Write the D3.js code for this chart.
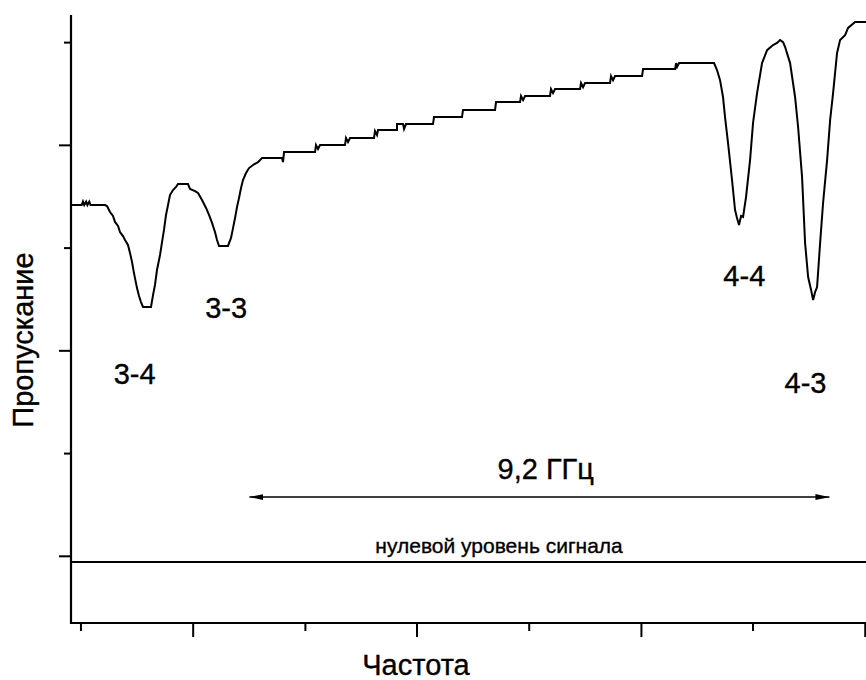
<!DOCTYPE html>
<html>
<head>
<meta charset="utf-8">
<script src="https://cdn.jsdelivr.net/npm/d3@7"></script>
<style>
  body { margin: 0; background: #fff; }
  text { font-family: "Liberation Sans", Arial, sans-serif; fill: #000; stroke: #000; stroke-width: 0.35px; }
</style>
</head>
<body>
<svg id="chart" width="866" height="680"></svg>
<script>
// Axis ticks (frequency in GHz, transmission in relative units)
const xMajorTicks = [1.93, 5.48, 9.04, 12.59];
const xMinorTicks = [0.15, 3.71, 7.26, 10.81];
const yMajorTicks = [3, 103, 203];
const yMinorTicks = [53, 153, 253];

// Transmission spectrum trace
const freq = [
  0, 0.17, 0.19, 0.21, 0.24, 0.26, 0.29, 0.31, 0.54,
  0.571, 0.619, 0.666, 0.698, 0.746, 0.777, 0.825, 0.857, 0.904, 0.936, 0.968, 0.999,
  1.047, 1.079, 1.110, 1.142, 1.269, 1.301, 1.332, 1.364, 1.412, 1.444, 1.475, 1.507,
  1.539, 1.570, 1.618, 1.666, 1.697, 1.856, 1.888, 1.967, 2.015, 2.078, 2.142, 2.189,
  2.237, 2.284, 2.316, 2.348, 2.490, 2.538, 2.570, 2.602, 2.633, 2.665, 2.697, 2.728,
  2.776, 2.824, 2.887, 2.966, 3.030,
  3.347, 3.363, 3.379, 3.871, 3.886, 3.918, 3.950,
  4.346, 4.362, 4.394, 4.426, 4.806, 4.822, 4.854, 4.870,
  5.171, 5.171, 5.267, 5.283, 5.314, 5.742, 5.758, 6.202, 6.218,
  6.726, 6.742, 7.122, 7.138, 7.170, 7.202, 7.598, 7.614, 7.646, 7.678,
  8.074, 8.090, 8.122, 8.154, 8.550, 8.566, 8.598, 8.630,
  9.058, 9.074, 9.582, 9.598, 9.614, 9.645, 10.200,
  10.247, 10.295, 10.342, 10.374, 10.422, 10.485, 10.533, 10.564, 10.596, 10.628, 10.660,
  10.707, 10.771, 10.818, 10.882, 10.961, 11.041, 11.136, 11.199, 11.247, 11.295, 11.327,
  11.406, 11.485, 11.533, 11.596, 11.644, 11.692, 11.739, 11.771, 11.803, 11.834, 11.882,
  11.929, 11.993, 12.041, 12.088, 12.151, 12.199, 12.278, 12.326, 12.437, 12.611
];
const transmission = [
  173.7, 173.7, 175.4, 173.7, 175.4, 173.7, 175.4, 173.7, 173.7,
  173.2, 170.3, 168.4, 165.5, 163.5, 160.6, 158.6, 156.7, 154.3, 150.4, 146.0, 140.6,
  133.3, 129.4, 126.5, 124.1, 124.1, 129.9, 134.8, 142.1, 149.4, 155.7, 161.6, 168.9,
  173.7, 178.6, 181.0, 182.5, 183.9, 183.9, 181.5, 180.5, 179.6, 176.2, 172.3, 168.9,
  165.0, 160.6, 156.7, 153.8, 153.8, 157.7, 162.5, 167.4, 172.7, 177.1, 182.0, 185.9,
  189.3, 191.7, 193.2, 194.6, 196.6,
  196.6, 194.6, 199.5, 199.5, 202.9, 201.0, 202.9,
  202.9, 206.3, 204.4, 206.3, 206.3, 209.7, 207.8, 210.2,
  210.2, 213.1, 213.1, 210.7, 213.1, 213.1, 216.5, 216.5, 220.0,
  220.0, 223.8, 223.8, 226.8, 224.8, 226.8, 226.8, 230.2, 228.2, 230.2,
  230.2, 233.1, 231.1, 233.1, 233.1, 236.5, 234.5, 236.5,
  236.5, 239.9, 239.9, 242.8, 240.9, 242.8, 242.8,
  239.4, 234.5, 226.3, 216.5, 203.9, 185.9, 171.3, 167.4, 164.0, 168.4, 167.9,
  177.6, 195.6, 213.6, 228.2, 242.8, 249.1, 251.6, 252.6, 254.0, 253.0, 250.6,
  242.8, 226.3, 211.7, 187.3, 155.2, 138.7, 132.4, 127.5, 131.4, 133.8, 155.2,
  174.7, 195.6, 215.1, 228.2, 247.7, 254.0, 256.4, 259.9, 262.8, 262.8
];

// Hyperfine transition labels
const lineLabels = ["3-4", "3-3", "4-4", "4-3"];
const labelFreq = [1.01, 2.46, 10.68, 11.65];
const labelLevel = [91.5, 123.6, 139.4, 87.3];

// Zero signal level and the ground-state splitting marker
const zeroLevel = 0;
const splittingStart = 2.83;
const splittingGHz = 9.2;
const splittingLevel = 31.6;
const splittingText = "9,2 ГГц";
const zeroText = "нулевой уровень сигнала";
const zeroTextFreq = 6.79;

const svg = d3.select("#chart");

const x = d3.scaleLinear().domain([0, 12.61]).range([71, 866]);
const y = d3.scaleLinear().domain([-29.7, 266.2]).range([623, 15]);

// Arrow markers
const defs = svg.append("defs");
["start", "end"].forEach(kind => {
  defs.append("marker")
    .attr("id", "arrow-" + kind)
    .attr("viewBox", "0 0 14 8")
    .attr("refX", kind === "end" ? 14 : 0)
    .attr("refY", 4)
    .attr("markerWidth", 14)
    .attr("markerHeight", 8)
    .attr("markerUnits", "userSpaceOnUse")
    .attr("orient", "auto")
    .append("path")
    .attr("d", kind === "end" ? "M0,1 L14,4 L0,7 Z" : "M14,1 L0,4 L14,7 Z")
    .attr("fill", "#000");
});

// Axes
function styleAxis(g) {
  g.select(".domain").remove();
  g.selectAll(".tick line").attr("stroke", "#000").attr("stroke-width", 2);
}
svg.append("g").attr("transform", `translate(${x.range()[0]},0)`)
  .call(d3.axisLeft(y).tickValues(yMajorTicks).tickSize(12).tickFormat(""))
  .call(styleAxis);
svg.append("g").attr("transform", `translate(${x.range()[0]},0)`)
  .call(d3.axisLeft(y).tickValues(yMinorTicks).tickSize(7).tickFormat(""))
  .call(styleAxis);
svg.append("g").attr("transform", `translate(0,${y.range()[0]})`)
  .call(d3.axisBottom(x).tickValues(xMajorTicks).tickSize(14).tickFormat(""))
  .call(styleAxis);
svg.append("g").attr("transform", `translate(0,${y.range()[0]})`)
  .call(d3.axisBottom(x).tickValues(xMinorTicks).tickSize(8).tickFormat(""))
  .call(styleAxis);

svg.append("path")
  .attr("d", `M${x.range()[0]},${y.range()[1]} V${y.range()[0]} H${x.range()[1]}`)
  .attr("fill", "none").attr("stroke", "#000").attr("stroke-width", 2.2);

// Zero signal level
svg.append("line")
  .attr("x1", x(0)).attr("x2", x(12.61))
  .attr("y1", y(zeroLevel)).attr("y2", y(zeroLevel))
  .attr("stroke", "#000").attr("stroke-width", 2);
svg.append("text")
  .attr("x", x(zeroTextFreq)).attr("y", y(zeroLevel) - 9)
  .attr("text-anchor", "middle").attr("font-size", 21)
  .text(zeroText);

// Spectrum
const pts = freq.map((f, i) => [f, transmission[i]]);
svg.append("path")
  .datum(pts)
  .attr("d", d3.line().x(d => x(d[0])).y(d => y(d[1])))
  .attr("fill", "none").attr("stroke", "#000").attr("stroke-width", 2)
  .attr("stroke-linejoin", "miter");

// Splitting arrow
svg.append("line")
  .attr("x1", x(splittingStart)).attr("x2", x(splittingStart + splittingGHz))
  .attr("y1", y(splittingLevel)).attr("y2", y(splittingLevel))
  .attr("stroke", "#000").attr("stroke-width", 1.4)
  .attr("marker-start", "url(#arrow-start)")
  .attr("marker-end", "url(#arrow-end)");
svg.append("text")
  .attr("x", x(7.53)).attr("y", y(splittingLevel) - 18)
  .attr("text-anchor", "middle").attr("font-size", 29)
  .text(splittingText);

// Transition labels
svg.selectAll("text.lbl").data(lineLabels).join("text")
  .attr("class", "lbl")
  .attr("x", (d, i) => x(labelFreq[i]))
  .attr("y", (d, i) => y(labelLevel[i]))
  .attr("dy", "0.36em")
  .attr("text-anchor", "middle").attr("font-size", 29)
  .text(d => d);

// Axis titles
svg.append("text")
  .attr("x", 416).attr("y", 675)
  .attr("text-anchor", "middle").attr("font-size", 29)
  .text("Частота");
svg.append("text")
  .attr("transform", "translate(33,340) rotate(-90)")
  .attr("text-anchor", "middle").attr("font-size", 29)
  .text("Пропускание");
</script>
</body>
</html>
